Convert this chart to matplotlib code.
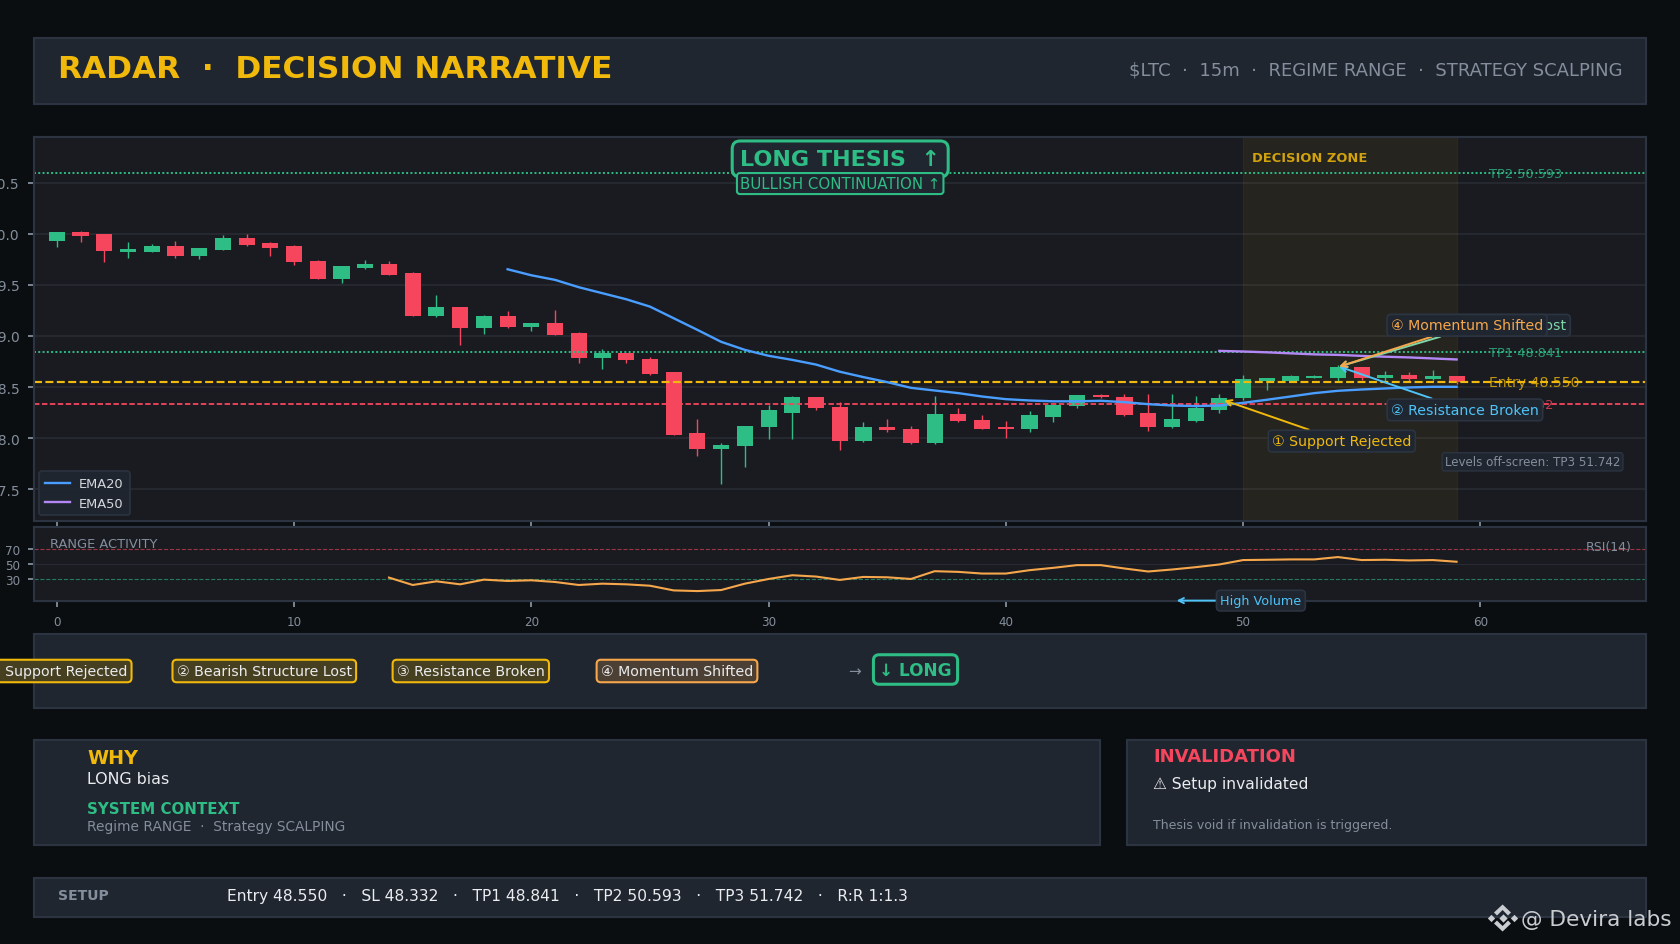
import matplotlib
matplotlib.use("Agg")
import matplotlib.pyplot as plt
from matplotlib.patches import Rectangle, Polygon

plt.rcParams['font.family'] = ['DejaVu Sans']

BG = '#0b0e11'; PANEL = '#1f2630'; AXBG = '#191b21'; EDGE = '#2c3441'; GRID = '#2a2d35'
GREEN = '#2ebd85'; RED = '#f6465d'; YELLOW = '#f0b90b'; ORANGE = '#f7a74b'
BLUE = '#4a9eff'; PURPLE = '#b388f5'; SKY = '#4fc3f7'; GRAY = '#848e9c'; WHITE = '#eaecef'

opens = [49.935, 50.02, 50.0, 49.824, 49.827, 49.882, 49.788, 49.847, 49.961, 49.912,
         49.882, 49.736, 49.563, 49.667, 49.706, 49.618, 49.2, 49.285, 49.083, 49.197,
         49.093, 49.129, 49.03, 48.789, 48.835, 48.776, 48.649, 48.05, 47.888, 47.918,
         48.104, 48.25, 48.404, 48.306, 47.967, 48.11, 48.09, 47.947, 48.238, 48.179,
         48.11, 48.084, 48.211, 48.31, 48.424, 48.404, 48.247, 48.104, 48.169, 48.277,
         48.394, 48.56, 48.56, 48.59, 48.59, 48.698, 48.59, 48.62, 48.58, 48.61]
closes = [50.02, 49.984, 49.837, 49.853, 49.882, 49.788, 49.863, 49.961, 49.896, 49.866,
          49.729, 49.563, 49.687, 49.706, 49.602, 49.2, 49.285, 49.083, 49.197, 49.093,
          49.129, 49.014, 48.789, 48.835, 48.76, 48.632, 48.025, 47.888, 47.934, 48.12,
          48.277, 48.404, 48.29, 47.967, 48.11, 48.074, 47.947, 48.238, 48.169, 48.084,
          48.084, 48.228, 48.326, 48.424, 48.398, 48.228, 48.104, 48.19, 48.296, 48.394,
          48.58, 48.59, 48.61, 48.61, 48.698, 48.59, 48.62, 48.58, 48.61, 48.55]
highs = [50.02, 50.03, 50.0, 49.918, 49.902, 49.93, 49.863, 49.99, 50.0, 49.922,
         49.892, 49.745, 49.687, 49.745, 49.736, 49.628, 49.403, 49.285, 49.207, 49.246,
         49.129, 49.256, 49.04, 48.874, 48.835, 48.796, 48.649, 48.189, 47.95, 48.12,
         48.326, 48.414, 48.404, 48.355, 48.156, 48.189, 48.12, 48.414, 48.296, 48.228,
         48.169, 48.267, 48.326, 48.424, 48.43, 48.43, 48.43, 48.43, 48.414, 48.43,
         48.62, 48.59, 48.62, 48.62, 48.717, 48.698, 48.66, 48.65, 48.668, 48.61]
lows = [49.876, 49.925, 49.73, 49.768, 49.827, 49.768, 49.758, 49.847, 49.882, 49.788,
        49.70, 49.563, 49.523, 49.657, 49.602, 49.2, 49.19, 48.916, 49.024, 49.083,
        49.053, 49.014, 48.74, 48.672, 48.74, 48.62, 48.025, 47.82, 47.546, 47.712,
        47.986, 47.986, 48.27, 47.879, 47.957, 48.055, 47.937, 47.937, 48.159, 48.084,
        47.996, 48.055, 48.153, 48.29, 48.39, 48.218, 48.065, 48.094, 48.16, 48.247,
        48.375, 48.473, 48.56, 48.59, 48.56, 48.564, 48.55, 48.55, 48.564, 48.53]

ema20_x = list(range(19, 60))
ema20 = [49.654, 49.595, 49.55, 49.478, 49.419, 49.36, 49.288, 49.174, 49.06, 48.943,
         48.864, 48.806, 48.766, 48.72, 48.65, 48.597, 48.548, 48.492, 48.466, 48.44,
         48.407, 48.381, 48.368, 48.36, 48.36, 48.365, 48.352, 48.332, 48.319, 48.313,
         48.319, 48.345, 48.375, 48.407, 48.44, 48.463, 48.476, 48.486, 48.496, 48.502, 48.502]
ema50_x = list(range(49, 60))
ema50 = [48.854, 48.848, 48.84, 48.83, 48.82, 48.815, 48.805, 48.797, 48.79, 48.78, 48.77]
rsi_x = list(range(14, 60))
rsi = [31.4, 21.3, 26.3, 22.2, 28.6, 26.8, 27.7, 25.4, 21.3, 23.1, 22.2, 20.3, 13.9, 13.0, 14.4, 23.1,
       29.5, 34.6, 32.8, 28.2, 32.3, 31.8, 29.5, 40.1, 39.2, 36.9, 36.9, 41.5, 44.7, 48.4,
       48.4, 43.8, 39.7, 42.4, 45.6, 49.3, 55.3, 55.7, 56.2, 56.2, 59.4, 55.3, 55.7, 54.8, 55.3, 53.0]

ENTRY = 48.550; SL = 48.332; TP1 = 48.841; TP2 = 50.593; TP3 = 51.742
ZONE = (50, 59)
price_ticks = [47.5, 48.0, 48.5, 49.0, 49.5, 50.0, 50.5]
index_ticks = [0, 10, 20, 30, 40, 50, 60]
rsi_ticks = [30, 50, 70]

W, H = 1680, 945
fig = plt.figure(figsize=(W / 100, H / 100), dpi=100, facecolor=BG)


def axbox(x0, y0, x1, y1):
    return [x0 / W, 1 - y1 / H, (x1 - x0) / W, (y1 - y0) / H]


bg = fig.add_axes([0, 0, 1, 1], zorder=0)
bg.set_xlim(0, W); bg.set_ylim(H, 0); bg.axis('off')
for x0, y0, x1, y1 in [(34, 39, 1646, 105), (34, 635, 1646, 709), (34, 741, 1100, 846),
                       (1127, 741, 1646, 846), (34, 879, 1646, 918)]:
    bg.add_patch(Rectangle((x0, y0), x1 - x0, y1 - y0, fc=PANEL, ec=EDGE, lw=1.5))

bg.text(58.5, 69.5, 'RADAR  ·  DECISION NARRATIVE', color=YELLOW, fontsize=22.4, fontweight='bold', va='center')
bg.text(1622.5, 70, '$LTC  ·  15m  ·  REGIME RANGE  ·  STRATEGY SCALPING', color=GRAY, fontsize=13, ha='right', va='center')

chip_kw = dict(color=WHITE, fontsize=10.2, ha='center', va='center_baseline')
for cx, label, ec, fc in [(57.6, '① Support Rejected', YELLOW, '#463f20'),
                          (264.3, '② Bearish Structure Lost', YELLOW, '#463f20'),
                          (470.8, '③ Resistance Broken', YELLOW, '#463f20'),
                          (677, '④ Momentum Shifted', ORANGE, '#4c3f33')]:
    bg.text(cx, 670.5, label, bbox=dict(boxstyle='round,pad=0.3', fc=fc, ec=ec, lw=1.5), **chip_kw)
bg.text(854.5, 671.5, '→', color=GRAY, fontsize=11, ha='center', va='center')
bg.text(915.5, 670.5, '↓ LONG', color=GREEN, fontsize=12.2, fontweight='bold', ha='center', va='center',
        bbox=dict(boxstyle='round,pad=0.34', fc=PANEL, ec=GREEN, lw=2.2))

bg.text(87, 759, 'WHY', color=YELLOW, fontsize=13.8, fontweight='bold', va='center')
bg.text(87, 780, 'LONG bias', color=WHITE, fontsize=11.4, va='center')
bg.text(87, 809.5, 'SYSTEM CONTEXT', color=GREEN, fontsize=10.8, fontweight='bold', va='center')
bg.text(87, 827, 'Regime RANGE  ·  Strategy SCALPING', color=GRAY, fontsize=9.95, va='center')
bg.text(1153, 757.5, 'INVALIDATION', color=RED, fontsize=13, fontweight='bold', va='center')
bg.text(1153, 785, '⚠ Setup invalidated', color=WHITE, fontsize=11.2, va='center')
bg.text(1153, 826, 'Thesis void if invalidation is triggered.', color=GRAY, fontsize=9, va='center')
bg.text(58, 896.5, 'SETUP', color=GRAY, fontsize=10.1, fontweight='bold', va='center')
bg.text(227, 896.5, f'Entry {ENTRY:.3f}   ·   SL {SL:.3f}   ·   TP1 {TP1:.3f}   ·   TP2 {TP2:.3f}   ·   TP3 {TP3:.3f}   ·   R:R 1:1.3',
        color=WHITE, fontsize=11.2, va='center')

# ---- price panel ----
ax = fig.add_axes(axbox(34, 137.7, 1646.4, 521.7), zorder=2, facecolor=AXBG)
ax.set_xlim(-0.962, 67); ax.set_ylim(47.19, 50.953)
ax.axvspan(ZONE[0], ZONE[1], color=YELLOW, alpha=0.06, lw=1, zorder=0.6)
ax.set_yticks(price_ticks); ax.set_xticks(index_ticks)
ax.set_yticklabels([f'{t:.1f}' for t in price_ticks])
ax.tick_params(axis='y', colors=GRAY, labelsize=10, length=4.3, width=1.3, pad=6, labelcolor=GRAY)
ax.tick_params(axis='x', colors=GRAY, length=4.3, width=1.3, labelbottom=False)
ax.grid(True, axis='y', color=GRID, lw=1.1, zorder=0.5)
ax.set_axisbelow(True)
for s in ax.spines.values():
    s.set_color(EDGE); s.set_linewidth(1.5)

for i, (o, c, h, l) in enumerate(zip(opens, closes, highs, lows)):
    col = GREEN if c >= o else RED
    ax.vlines(i, l, h, color=col, lw=1.0, zorder=2)
    ax.bar(i, abs(c - o), bottom=min(o, c), width=0.68, color=col, lw=0, zorder=2.1)

ax.axhline(TP2, color=GREEN, ls=(0, (1, 1.2)), lw=1.4, zorder=2.4)
ax.axhline(TP1, color=GREEN, ls=(0, (1, 1.2)), lw=1.4, zorder=2.4)
ax.axhline(ENTRY, color=YELLOW, ls='--', lw=1.55, zorder=2.4)
ax.axhline(SL, color=RED, ls=(0, (3, 1.4)), lw=1.3, zorder=2.4)
ax.plot(ema20_x, ema20, color=BLUE, lw=1.7, label='EMA20', zorder=2.6)
ax.plot(ema50_x, ema50, color=PURPLE, lw=1.7, label='EMA50', zorder=2.6)

for y, s, col, fs in [(TP2, f'TP2 {TP2:.3f}', GREEN, 9.3), (TP1, f'TP1 {TP1:.3f}', GREEN, 9.3),
                      (ENTRY, f'Entry {ENTRY:.3f}', YELLOW, 10.1), (SL, f'SL {SL:.3f}', RED, 9.3)]:
    ax.text(60.37, y, s, color=col, fontsize=fs, va='center', alpha=0.78, zorder=2.7)

ax.text(50.37, 50.75, 'DECISION ZONE', color=YELLOW, fontsize=9.4, fontweight='bold', va='center', alpha=0.85, zorder=3,
        ha='left')
ax.text(0.5, 0.942, 'LONG THESIS  ↑', transform=ax.transAxes, color=GREEN, fontsize=16, fontweight='bold',
        ha='center', va='center', zorder=5,
        bbox=dict(boxstyle='round,pad=0.36', fc=PANEL, ec=GREEN, lw=2.2))
ax.text(0.5, 0.878, 'BULLISH CONTINUATION ↑', transform=ax.transAxes, color=GREEN, fontsize=10.85,
        ha='center', va='center', zorder=5.1,
        bbox=dict(boxstyle='round,pad=0.2', fc=PANEL, ec=GREEN, lw=1.5))

box = dict(boxstyle='round,pad=0.27', fc=PANEL, ec=EDGE, lw=1.2)


def callout(text, xy, xytext, col, z):
    ax.annotate(text, xy=xy, xytext=xytext, color=col, fontsize=10.2, ha='center', va='center',
                zorder=z, bbox=box, annotation_clip=False,
                arrowprops=dict(arrowstyle='->', color=col, lw=1.4, shrinkA=0, shrinkB=0))


callout('① Support Rejected', (49.2, 48.37), (54.16, 47.97), YELLOW, 4.0)
callout('② Bearish Structure Lost', (54.05, 48.70), (59.94, 49.105), '#7fd6a8', 4.1)
callout('② Resistance Broken', (54.05, 48.70), (59.35, 48.276), SKY, 4.2)
callout('④ Momentum Shifted', (54.05, 48.70), (59.44, 49.105), ORANGE, 4.3)

ax.text(62.2, 47.767, f'Levels off-screen: TP3 {TP3:.3f}', color=GRAY, fontsize=8.6, ha='center', va='center', zorder=4,
        bbox=dict(boxstyle='round,pad=0.22', fc=PANEL, ec=EDGE, lw=1.0))

leg = ax.legend(loc='lower left', fontsize=9.4, facecolor=PANEL, edgecolor=EDGE, framealpha=0.95, labelcolor='#d5d8dc',
                handlelength=1.9, borderpad=0.45, labelspacing=0.5, handletextpad=0.7, borderaxespad=0.4)
leg.set_zorder(5)
leg.get_frame().set_linewidth(1.2)

# ---- RSI panel ----
ar = fig.add_axes(axbox(34, 528.3, 1646.4, 601.6), zorder=3, facecolor=AXBG)
ar.set_xlim(-0.962, 67); ar.set_ylim(0, 100)
ar.set_xticks(index_ticks); ar.set_yticks(rsi_ticks)
ar.tick_params(axis='both', colors=GRAY, labelsize=8.6, length=4.3, width=1.3, pad=5.5)
ar.tick_params(axis='x', pad=6)
for s in ar.spines.values():
    s.set_color(EDGE); s.set_linewidth(1.5)
ar.axhline(70, color=RED, ls='--', lw=0.8, alpha=0.6)
ar.axhline(50, color=GRID, lw=0.7)
ar.axhline(30, color=GREEN, ls='--', lw=0.8, alpha=0.6)
ar.plot(rsi_x, rsi, color=ORANGE, lw=1.5, zorder=3)
ar.text(50, 544.5, 'RANGE ACTIVITY', color=GRAY, fontsize=9.4, va='center', transform=bg.transData)
ar.text(1632, 548, 'RSI(14)', color=GRAY, fontsize=9, ha='right', va='center', transform=bg.transData)
ar.annotate('High Volume', xy=(47.2, 0), xytext=(50.75, 0), color=SKY, fontsize=9.2, ha='center', va='center',
            zorder=6, annotation_clip=False, bbox=dict(boxstyle='round,pad=0.3', fc=PANEL, ec=EDGE, lw=1.2),
            arrowprops=dict(arrowstyle='->', color=SKY, lw=1.4, shrinkA=0, shrinkB=0))

# ---- watermark ----
top = fig.add_axes([0, 0, 1, 1], zorder=10)
top.set_xlim(0, W); top.set_ylim(H, 0); top.axis('off'); top.patch.set_alpha(0)
lc = '#c9ccd1'
top.text(1521, 920, '@ Devira labs', color=lc, fontsize=15.6, va='center')
top.scatter([1502.6], [919], marker='D', s=18, c=lc, lw=0)
top.scatter([1491, 1514], [919, 919], marker='D', s=14, c=lc, lw=0)
top.add_patch(Polygon([(1502.6, 905.5), (1511, 913.5), (1508, 916.5), (1502.6, 911), (1497, 916.5), (1494, 913.5)], fc=lc, lw=0))
top.add_patch(Polygon([(1502.6, 932.5), (1511, 924.5), (1508, 921.5), (1502.6, 927), (1497, 921.5), (1494, 924.5)], fc=lc, lw=0))

fig.savefig('out.png', dpi=100, facecolor=BG)
